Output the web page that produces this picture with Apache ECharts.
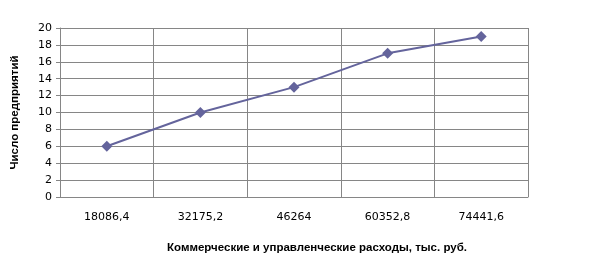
<!DOCTYPE html>
<html><head><meta charset="utf-8">
<script src="https://cdn.jsdelivr.net/npm/echarts@6/dist/echarts.min.js"></script>
<style>html,body{margin:0;padding:0;background:#fff}#c{width:605px;height:275px}</style>
</head><body><div id="c"></div>
<script>
const categories = ['18086,4', '32175,2', '46264', '60352,8', '74441,6'];
const values = [6, 10, 13, 17, 19];
const yTicks = {min: 0, max: 20, interval: 2};
const xName = 'Коммерческие и управленческие расходы, тыс. руб.';
const yName = 'Число предприятий';

const chart = echarts.init(document.getElementById('c'), null, {renderer: 'canvas'});
const font = '"DejaVu Sans", Verdana, sans-serif';
const nameFont = '"Liberation Sans", Arial, sans-serif';
chart.setOption({
  animation: false,
  grid: {left: 60, right: 77, top: 28, bottom: 78},
  xAxis: {
    type: 'category', data: categories, boundaryGap: true,
    name: xName, nameLocation: 'middle', nameGap: 45,
    nameTextStyle: {fontFamily: nameFont, fontSize: 11.5, fontWeight: 'bold', color: '#000', padding: [0, 0, 0, 46]},
    axisLine: {lineStyle: {color: '#868686', width: 1}},
    axisTick: {show: false},
    axisLabel: {fontFamily: font, fontSize: 11, color: '#000', margin: 15},
    splitLine: {show: true, lineStyle: {color: '#868686', width: 1}}
  },
  yAxis: {
    type: 'value', min: yTicks.min, max: yTicks.max, interval: yTicks.interval,
    name: yName, nameLocation: 'middle', nameGap: 39, nameRotate: 90,
    nameTextStyle: {fontFamily: nameFont, fontSize: 11.5, fontWeight: 'bold', color: '#000'},
    axisLine: {show: true, lineStyle: {color: '#868686', width: 1}},
    axisTick: {show: true, length: 4, lineStyle: {color: '#868686'}},
    axisLabel: {fontFamily: font, fontSize: 11, color: '#000', margin: 8},
    splitLine: {show: true, lineStyle: {color: '#868686', width: 1}}
  },
  series: [{
    type: 'line', data: values,
    symbol: 'diamond', symbolSize: 11,
    lineStyle: {color: '#64649C', width: 2},
    itemStyle: {color: '#64649C'}
  }]
});
</script></body></html>
